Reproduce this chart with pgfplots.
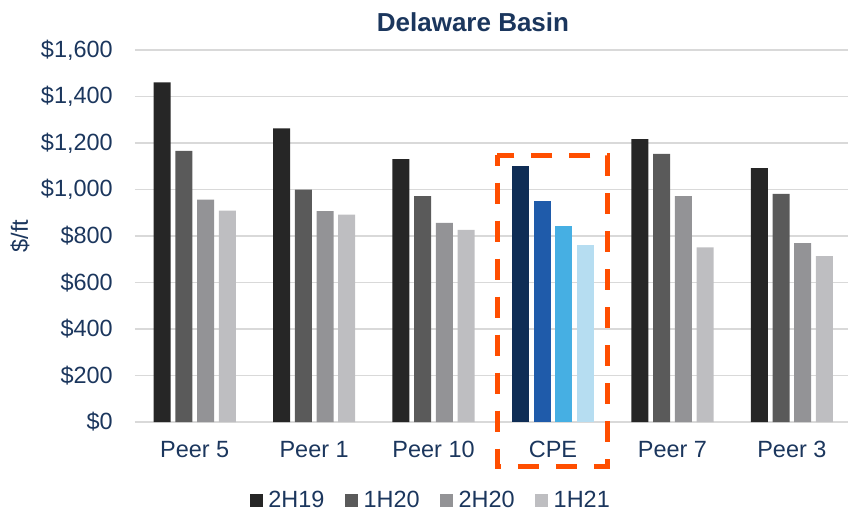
\documentclass[border=0pt]{standalone}
\usepackage{pgfplots}
\pgfplotsset{compat=1.18}
\usepackage{fontspec}
\setmainfont{Liberation Sans}

\definecolor{gA}{HTML}{262626}
\definecolor{gB}{HTML}{5A5A5A}
\definecolor{gC}{HTML}{939396}
\definecolor{gD}{HTML}{BEBEC1}
\definecolor{bA}{HTML}{0F2D55}
\definecolor{bB}{HTML}{1F5BAA}
\definecolor{bC}{HTML}{46AFE3}
\definecolor{bD}{HTML}{B6DDF1}
\definecolor{navy}{HTML}{1B365D}
\definecolor{gridgray}{HTML}{D9D9D9}
\definecolor{hilite}{HTML}{FF4E00}

\begin{document}
\begin{tikzpicture}
\useasboundingbox (-101.25pt,-67.5pt) rectangle (534.75pt,316.5pt);

\begin{axis}[
    at={(0,0)}, anchor=south west,
    scale only axis,
    width=534.75pt, height=279pt,
    ybar,
    bar width=12.75pt,
    clip=false,
    xmin=-0.5, xmax=5.47,
    ymin=0, ymax=1600,
    axis lines=left,
    axis line style={draw=none},
    major tick length=0pt,
    xtick={0,1,2,3,4,5},
    xticklabels={Peer 5,Peer 1,Peer 10,CPE,Peer 7,Peer 3},
    ytick={0,200,400,600,800,1000,1200,1400,1600},
    yticklabels={{\$0},{\$200},{\$400},{\$600},{\$800},{\$1,000},{\$1,200},{\$1,400},{\$1,600}},
    ymajorgrids,
    grid style={gridgray, line width=1.4pt},
    tick label style={font=\fontsize{17.6}{20}\selectfont, text=navy, inner sep=0pt},
    yticklabel style={anchor=east, xshift=-16.5pt},
    xticklabel style={anchor=north, yshift=-14.25pt},
    legend columns=4,
    legend style={at={(axis description cs:0.4137,-0.2097)}, anchor=center,
        draw=none, fill=none, font=\fontsize{17.6}{20}\selectfont, text=navy,
        nodes={inner sep=0pt},
        /tikz/every odd column/.append style={column sep=4pt},
        /tikz/every even column/.append style={column sep=15.5pt}},
    legend image code/.code={\fill[#1] (0pt,-4.875pt) rectangle (9.75pt,4.875pt);},
]
% peers
\addplot[fill=gA, draw=none, bar shift=-24.45pt] coordinates {(0,1461) (1,1263) (2,1131) (4,1217) (5,1092)};
\addplot[fill=gB, draw=none, bar shift=-8.15pt] coordinates {(0,1166) (1,999) (2,972) (4,1153) (5,981)};
\addplot[fill=gC, draw=none, bar shift=8.15pt] coordinates {(0,956) (1,907) (2,856) (4,972) (5,769)};
\addplot[fill=gD, draw=none, bar shift=24.45pt] coordinates {(0,909) (1,892) (2,826) (4,751) (5,714)};
\legend{2H19,1H20,2H20,1H21}
% CPE
\addplot[fill=bA, draw=none, bar shift=-24.45pt, forget plot] coordinates {(3,1101)};
\addplot[fill=bB, draw=none, bar shift=-8.15pt, forget plot] coordinates {(3,951)};
\addplot[fill=bC, draw=none, bar shift=8.15pt, forget plot] coordinates {(3,843)};
\addplot[fill=bD, draw=none, bar shift=24.45pt, forget plot] coordinates {(3,761)};

\draw[hilite, line width=3.75pt, dash pattern=on 15.75pt off 12.75pt, dash phase=7.875pt]
    (axis cs:2.535,1148) rectangle (axis cs:3.457,-190);
\end{axis}

\node[anchor=base, font=\bfseries\fontsize{19.5}{22}\selectfont, text=navy] at (253.5pt,292.7pt) {Delaware Basin};
\node[rotate=90, font=\fontsize{17.6}{20}\selectfont, text=navy] at (-86.25pt,139.5pt) {\$/ft};
\end{tikzpicture}
\end{document}
